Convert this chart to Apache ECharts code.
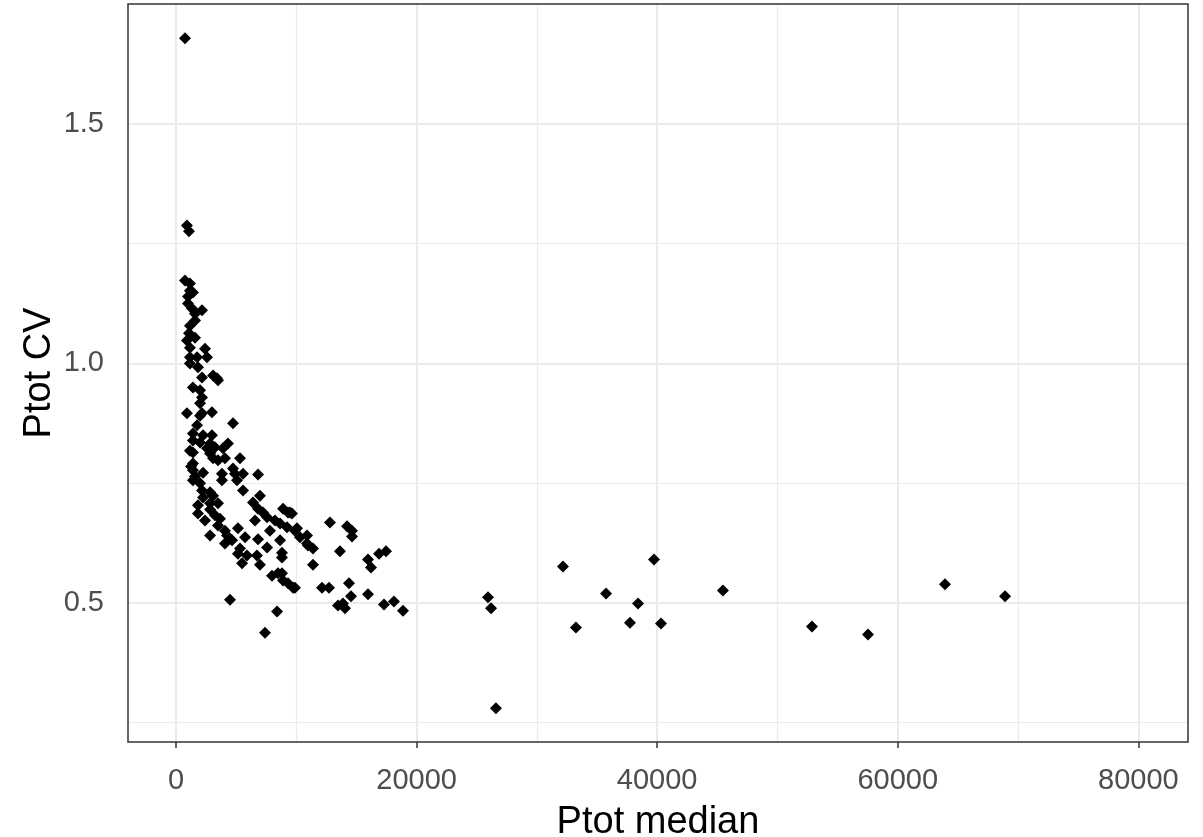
<!DOCTYPE html>
<html>
<head>
<meta charset="utf-8">
<script src="https://cdn.jsdelivr.net/npm/echarts@6/dist/echarts.min.js"></script>
<style>
html,body{margin:0;padding:0;background:#fff;}
#chart{width:1203px;height:837px;}
</style>
</head>
<body>
<div id="chart"></div>
<script>
// Ptot median (x) and Ptot CV (y)
const ptotMedian = [
  750, 910, 1080, 750, 1160, 1410, 1000, 1330, 2160, 1580,
  1160, 1580, 910, 1160, 2410, 1160, 1750, 2580, 1160, 1830,
  3080, 3490, 2160, 1410, 2000, 2160, 2000, 2990, 910, 2160,
  4740, 1750, 1410, 2250, 2990, 1410, 2000, 2830, 3240, 4320,
  3910, 1410, 2580, 2830, 3080, 3490, 4070, 5320, 1410, 1410,
  2250, 3820, 4740, 4900, 5570, 6820, 1410, 2000, 3820, 5070,
  2160, 2830, 2250, 3080, 5570, 6400, 6980, 2830, 3490, 1830,
  2830, 6820, 7230, 8900, 9310, 3660, 3490, 6570, 7570, 8230,
  4070, 5150, 2830, 7810, 8650, 9230, 10060, 4240, 5740, 6820,
  10310, 4070, 4660, 8650, 7570, 5320, 10890, 5150, 5900, 8810,
  8810, 6730, 5490, 6980, 7980, 8480, 8900, 9310, 9890, 4490,
  8400, 7400, 9640, 9890, 10890, 10970, 11390, 12800, 14220, 14630,
  14630, 13630, 11390, 15960, 16210, 16880, 17460, 9730, 12140, 12720,
  14380, 14550, 15960, 13470, 13880, 14050, 17290, 18120, 18870, 8810,
  9480, 25940, 26190, 26600, 32170, 33250, 35750, 37740, 38410, 39740,
  40320, 45470, 52870, 57530, 63930, 68920,
  1160, 1250, 1580, 1830, 2410, 3240, 3410, 2000, 1160, 1000, 1580, 1080
];
const ptotCV = [
  1.679, 1.288, 1.276, 1.173, 1.167, 1.148, 1.125, 1.115, 1.111, 1.104,
  1.079, 1.054, 1.048, 1.033, 1.031, 1.013, 1.013, 1.013, 1.000, 0.992,
  0.975, 0.965, 0.971, 0.950, 0.944, 0.929, 0.917, 0.898, 0.896, 0.896,
  0.875, 0.871, 0.854, 0.850, 0.850, 0.839, 0.835, 0.833, 0.825, 0.833,
  0.823, 0.814, 0.823, 0.812, 0.802, 0.798, 0.802, 0.802, 0.791, 0.777,
  0.772, 0.770, 0.781, 0.770, 0.770, 0.768, 0.756, 0.750, 0.756, 0.756,
  0.735, 0.731, 0.720, 0.724, 0.735, 0.710, 0.724, 0.708, 0.708, 0.687,
  0.695, 0.697, 0.689, 0.697, 0.689, 0.676, 0.662, 0.672, 0.679, 0.672,
  0.651, 0.656, 0.641, 0.651, 0.666, 0.658, 0.656, 0.641, 0.637, 0.633,
  0.637, 0.624, 0.631, 0.631, 0.616, 0.614, 0.624, 0.603, 0.599, 0.605,
  0.595, 0.599, 0.583, 0.580, 0.557, 0.562, 0.547, 0.541, 0.532, 0.507,
  0.482, 0.438, 0.687, 0.651, 0.641, 0.620, 0.614, 0.668, 0.660, 0.651,
  0.639, 0.608, 0.580, 0.591, 0.574, 0.603, 0.608, 0.532, 0.532, 0.532,
  0.541, 0.514, 0.518, 0.495, 0.499, 0.489, 0.497, 0.503, 0.484, 0.562,
  0.689, 0.512, 0.489, 0.280, 0.576, 0.449, 0.520, 0.459, 0.499, 0.591,
  0.457, 0.526, 0.451, 0.434, 0.539, 0.514,
  0.818, 0.785, 0.764, 0.704, 0.672, 0.683, 0.969, 0.891, 1.152, 1.140, 1.090, 1.063
];

const xMajorTicks = [0, 20000, 40000, 60000, 80000];
const xMinorTicks = [10000, 30000, 50000, 70000];
const yMajorTicks = [0.5, 1.0, 1.5];
const yMinorTicks = [0.25, 0.75, 1.25];

const FONT = "'Liberation Sans', Arial, sans-serif";
const points = ptotMedian.map((x, i) => [x, ptotCV[i]]);

const gridLines = [];
xMajorTicks.forEach(v => gridLines.push({xAxis: v, lineStyle: {color: '#ebebeb', width: 2, type: 'solid'}}));
xMinorTicks.forEach(v => gridLines.push({xAxis: v, lineStyle: {color: '#ebebeb', width: 1.2, type: 'solid'}}));
yMajorTicks.forEach(v => gridLines.push({yAxis: v, lineStyle: {color: '#ebebeb', width: 2, type: 'solid'}}));
yMinorTicks.forEach(v => gridLines.push({yAxis: v, lineStyle: {color: '#ebebeb', width: 1.2, type: 'solid'}}));

const chart = echarts.init(document.getElementById('chart'), null, {renderer: 'canvas'});
chart.setOption({
  animation: false,
  backgroundColor: '#ffffff',
  grid: {
    left: 128, right: 15, top: 4, bottom: 95,
    outerBoundsMode: 'none',
    containLabel: false,
    show: true, borderColor: '#333333', borderWidth: 1.5, backgroundColor: 'transparent',
    z: 6
  },
  xAxis: {
    type: 'value',
    min: -3990, max: 84130,
    name: 'Ptot median',
    nameLocation: 'middle',
    nameGap: 62,
    nameMoveOverlap: false,
    nameTextStyle: {fontFamily: FONT, fontSize: 38, color: '#000000'},
    axisLine: {show: false},
    axisTick: {show: true, length: 6, customValues: xMajorTicks, lineStyle: {color: '#333333', width: 1.5}},
    axisLabel: {show: true, customValues: xMajorTicks, margin: 24, fontFamily: FONT, fontSize: 29, color: '#4d4d4d',
      formatter: v => String(v)},
    splitLine: {show: false},
    minorSplitLine: {show: false}
  },
  yAxis: {
    type: 'value',
    min: 0.2098, max: 1.7505,
    name: 'Ptot CV',
    nameLocation: 'middle',
    nameGap: 69,
    nameMoveOverlap: false,
    nameTextStyle: {fontFamily: FONT, fontSize: 38, color: '#000000'},
    axisLine: {show: false},
    axisTick: {show: true, length: 6, customValues: yMajorTicks, lineStyle: {color: '#333333', width: 1.5}},
    axisLabel: {show: true, customValues: yMajorTicks, margin: 24, fontFamily: FONT, fontSize: 29, color: '#4d4d4d',
      formatter: v => Number(v).toFixed(1)},
    splitLine: {show: false},
    minorSplitLine: {show: false}
  },
  series: [
    {
      type: 'scatter',
      data: [],
      z: 1,
      silent: true,
      markLine: {
        z: 1,
        silent: true,
        symbol: ['none', 'none'],
        label: {show: false},
        animation: false,
        data: gridLines
      }
    },
    {
      type: 'scatter',
      data: points,
      z: 10,
      symbol: 'diamond',
      symbolSize: 12,
      itemStyle: {color: '#000000', opacity: 1}
    }
  ]
});
</script>
</body>
</html>
